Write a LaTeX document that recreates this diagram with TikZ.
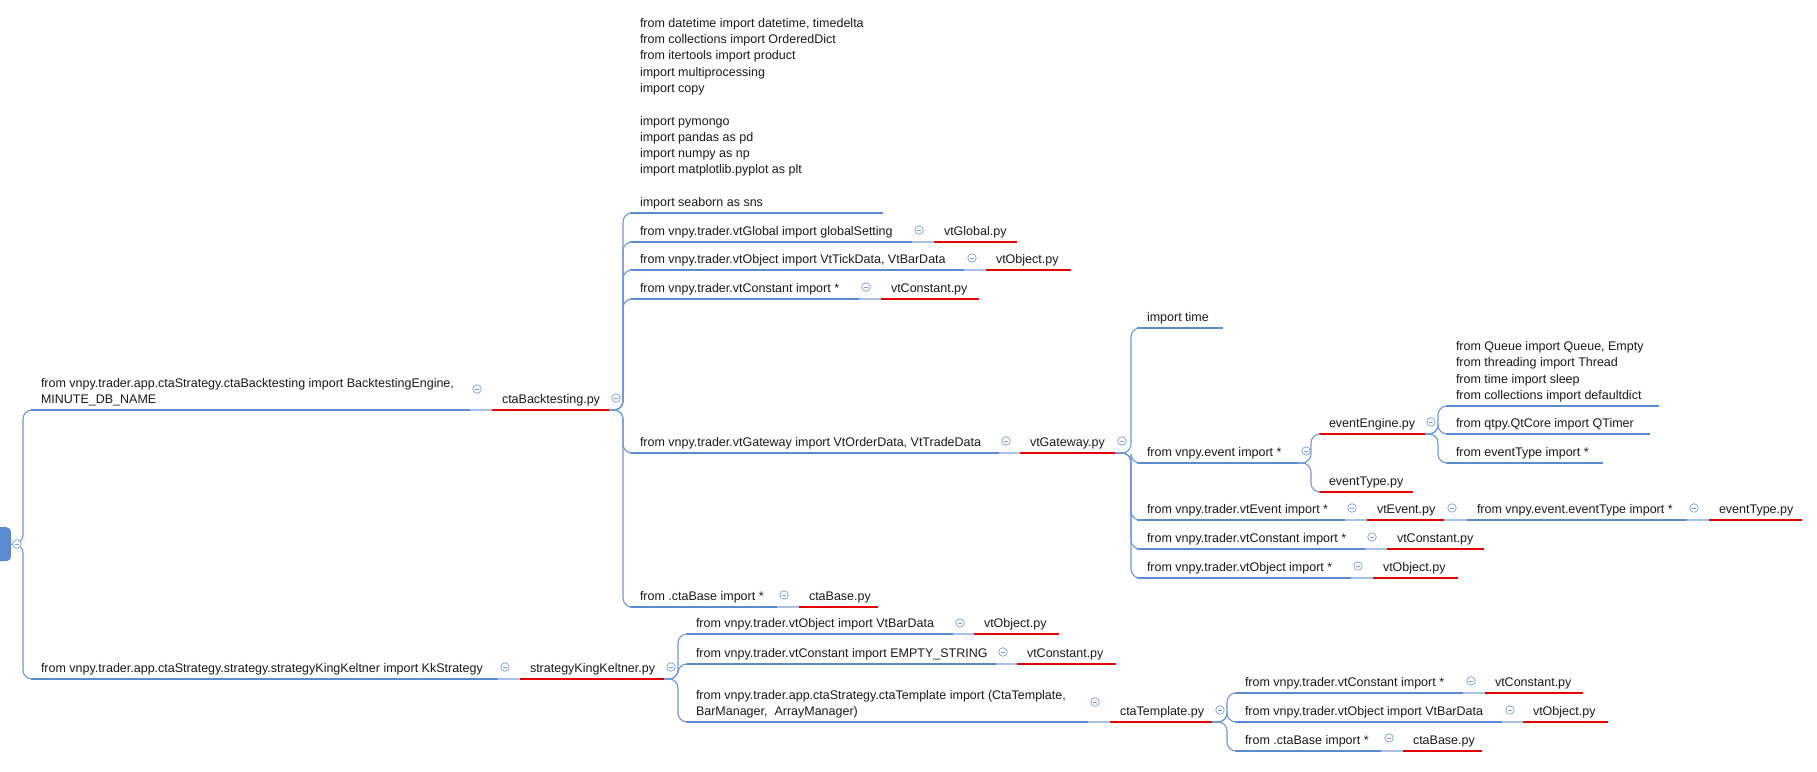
\documentclass[tikz,border=0pt]{standalone}
\usepackage{fontspec}
\setmainfont{Liberation Sans}
\usetikzlibrary{calc}
\definecolor{ulblue}{HTML}{5A8AD0}
\definecolor{ulred}{HTML}{E30000}
\definecolor{lconn}{HTML}{A9C1E6}
\definecolor{brblue}{HTML}{6F98D6}
\definecolor{iconblue}{HTML}{7E9CD6}
\definecolor{txt}{HTML}{1A1A1A}
\newcommand\tpfont{\fontsize{12.5}{16.3}\selectfont}
\tikzset{
  tpbase/.style={anchor=south west, inner xsep=10pt, inner ysep=1.6pt, outer sep=0pt, font=\tpfont, text=txt},
  ulb/.style={draw=ulblue, line width=2.2pt},
  ulr/.style={draw=ulred, line width=2.5pt},
  lc/.style={draw=lconn, line width=1.1pt},
  br/.style={draw=brblue, line width=1.1pt, rounded corners=9pt},
  icon/.style={circle, draw=iconblue, fill=white, line width=0.7pt, minimum size=8.5pt, inner sep=0pt,
    path picture={\draw[iconblue, line width=0.7pt] ([xshift=-2.3pt]path picture bounding box.center) -- ([xshift=2.3pt]path picture bounding box.center);}},
  rootbox/.style={anchor=north west, fill=ulblue, rounded corners=5pt, minimum width=21pt, minimum height=34pt, inner sep=0pt}
}
% blue topic: name, xl, xr, y(underline), text
\newcommand\tp[5]{%
  \pgfmathsetmacro\tpw{#3-#2-20}%
  \node[tpbase, minimum width={#3-#2}] (#1) at (#2,#4) {\makebox[\tpw pt][l]{\begin{tabular}[b]{@{}l@{}}#5\end{tabular}}};
  \draw[ulb] (#1.south west) -- (#1.south east);}
% red file topic
\newcommand\tf[5]{%
  \pgfmathsetmacro\tpw{#3-#2-20}%
  \node[tpbase, minimum width={#3-#2}] (#1) at (#2,#4) {\makebox[\tpw pt][l]{\begin{tabular}[b]{@{}l@{}}#5\end{tabular}}};
  \draw[ulr] (#1.south west) -- (#1.south east);}
\newcommand\ic[3]{\node[icon] (#1) at (#2,#3) {};}
\begin{document}
\begin{tikzpicture}[x=1pt, y=-1pt]
\useasboundingbox (0,0) rectangle (1817,771);
% ---------- root ----------
\node[rootbox] (root) at (-10,527) {};
\coordinate (j0) at (23,544);
% ---------- level 1 ----------
\tp{A}{31}{470}{410}{from vnpy.trader.app.ctaStrategy.ctaBacktesting import BacktestingEngine,\\MINUTE\_DB\_NAME}
\tf{Af}{492}{609}{410}{ctaBacktesting.py}
\tp{B}{31}{498}{679}{from vnpy.trader.app.ctaStrategy.strategy.strategyKingKeltner import KkStrategy}
\tf{Bf}{520}{664}{679}{strategyKingKeltner.py}
% ---------- ctaBacktesting children ----------
\tp{C1}{630}{883}{213}{from datetime import datetime, timedelta\\from collections import OrderedDict\\from itertools import product\\import multiprocessing\\import copy\\ \\import pymongo\\import pandas as pd\\import numpy as np\\import matplotlib.pyplot as plt\\ \\import seaborn as sns}
\tp{C2}{630}{912}{242}{from vnpy.trader.vtGlobal import globalSetting}
\tf{C2f}{934}{1017}{242}{vtGlobal.py}
\tp{C3}{630}{964}{270}{from vnpy.trader.vtObject import VtTickData, VtBarData}
\tf{C3f}{986}{1071}{270}{vtObject.py}
\tp{C4}{630}{859}{299}{from vnpy.trader.vtConstant import *}
\tf{C4f}{881}{979}{299}{vtConstant.py}
\tp{C5}{630}{999}{453}{from vnpy.trader.vtGateway import VtOrderData, VtTradeData}
\tf{C5f}{1020}{1115}{453}{vtGateway.py}
\tp{C6}{630}{777}{607}{from .ctaBase import *}
\tf{C6f}{799}{878}{607}{ctaBase.py}
% ---------- vtGateway children ----------
\tp{D1}{1137}{1223}{328}{import time}
\tp{D2}{1137}{1298}{463}{from vnpy.event import *}
\tp{D3}{1137}{1345}{520}{from vnpy.trader.vtEvent import *}
\tf{D3f}{1367}{1444}{520}{vtEvent.py}
\tp{D3g}{1467}{1687}{520}{from vnpy.event.eventType import *}
\tf{D3h}{1709}{1802}{520}{eventType.py}
\tp{D4}{1137}{1365}{549}{from vnpy.trader.vtConstant import *}
\tf{D4f}{1387}{1484}{549}{vtConstant.py}
\tp{D5}{1137}{1351}{578}{from vnpy.trader.vtObject import *}
\tf{D5f}{1373}{1458}{578}{vtObject.py}
% ---------- vnpy.event children ----------
\tf{E1}{1319}{1425}{434}{eventEngine.py}
\tf{E2}{1319}{1413}{492}{eventType.py}
% ---------- eventEngine children ----------
\tp{F1}{1446}{1659}{406}{from Queue import Queue, Empty\\from threading import Thread\\from time import sleep\\from collections import defaultdict}
\tp{F2}{1446}{1650}{434}{from qtpy.QtCore import QTimer}
\tp{F3}{1446}{1603}{463}{from eventType import *}
% ---------- strategyKingKeltner children ----------
\tp{G1}{686}{953}{634}{from vnpy.trader.vtObject import VtBarData}
\tf{G1f}{974}{1059}{634}{vtObject.py}
\tp{G2}{686}{996}{664}{from vnpy.trader.vtConstant import EMPTY\_STRING}
\tf{G2f}{1017}{1116}{664}{vtConstant.py}
\tp{G3}{686}{1088}{722}{from vnpy.trader.app.ctaStrategy.ctaTemplate import (CtaTemplate,\\BarManager,\ \ ArrayManager)}
\tf{G3f}{1110}{1212}{722}{ctaTemplate.py}
% ---------- ctaTemplate children ----------
\tp{H1}{1235}{1463}{693}{from vnpy.trader.vtConstant import *}
\tf{H1f}{1485}{1583}{693}{vtConstant.py}
\tp{H2}{1235}{1502}{722}{from vnpy.trader.vtObject import VtBarData}
\tf{H2f}{1523}{1608}{722}{vtObject.py}
\tp{H3}{1235}{1381}{751}{from .ctaBase import *}
\tf{H3f}{1403}{1482}{751}{ctaBase.py}
% ---------- junctions ----------
\coordinate (j1) at (623,410);
\coordinate (j2) at (1131,453);
\coordinate (j3) at (1311,463);
\coordinate (j4) at (1438,434);
\coordinate (j5) at (678,679);
\coordinate (j6) at (1227,722);
% ---------- brackets ----------
\foreach \c in {A,B} \draw[br] (root.east) -- (j0) |- (\c.south west);
\foreach \c in {C1,C2,C3,C4,C5,C6} \draw[br] (Af.south east) -- (j1) |- (\c.south west);
\foreach \c in {D1,D2,D3,D4,D5} \draw[br] (C5f.south east) -- (j2) |- (\c.south west);
\foreach \c in {E1,E2} \draw[br] (D2.south east) -- (j3) |- (\c.south west);
\foreach \c in {F1,F2,F3} \draw[br] (E1.south east) -- (j4) |- (\c.south west);
\foreach \c in {G1,G2,G3} \draw[br] (Bf.south east) -- (j5) |- (\c.south west);
\foreach \c in {H1,H2,H3} \draw[br] (G3f.south east) -- (j6) |- (\c.south west);
% ---------- light links ----------
\draw[lc] (A.south east) -- (Af.south west);
\draw[lc] (B.south east) -- (Bf.south west);
\draw[lc] (C2.south east) -- (C2f.south west);
\draw[lc] (C3.south east) -- (C3f.south west);
\draw[lc] (C4.south east) -- (C4f.south west);
\draw[lc] (C5.south east) -- (C5f.south west);
\draw[lc] (C6.south east) -- (C6f.south west);
\draw[lc] (D3.south east) -- (D3f.south west);
\draw[lc] (D3f.south east) -- (D3g.south west);
\draw[lc] (D3g.south east) -- (D3h.south west);
\draw[lc] (D4.south east) -- (D4f.south west);
\draw[lc] (D5.south east) -- (D5f.south west);
\draw[lc] (G1.south east) -- (G1f.south west);
\draw[lc] (G2.south east) -- (G2f.south west);
\draw[lc] (G3.south east) -- (G3f.south west);
\draw[lc] (H1.south east) -- (H1f.south west);
\draw[lc] (H2.south east) -- (H2f.south west);
\draw[lc] (H3.south east) -- (H3f.south west);
% ---------- collapse icons ----------
\ic{i0}{17}{544}
\ic{iA}{477}{389}
\ic{iAf}{616}{398}
\ic{iB}{505}{667}
\ic{iBf}{671}{667}
\ic{iC2}{919}{230}
\ic{iC3}{972}{258}
\ic{iC4}{866}{287}
\ic{iC5}{1006}{441}
\ic{iC5f}{1122}{441}
\ic{iC6}{784}{595}
\ic{iD2}{1306}{451}
\ic{iD3}{1352}{508}
\ic{iD3f}{1452}{508}
\ic{iD3g}{1694}{508}
\ic{iD4}{1372}{537}
\ic{iD5}{1358}{566}
\ic{iE1}{1431}{422}
\ic{iG1}{960}{623}
\ic{iG2}{1003}{652}
\ic{iG3}{1095}{702}
\ic{iG3f}{1220}{710}
\ic{iH1}{1471}{681}
\ic{iH2}{1510}{710}
\ic{iH3}{1389}{738}
\end{tikzpicture}
\end{document}
